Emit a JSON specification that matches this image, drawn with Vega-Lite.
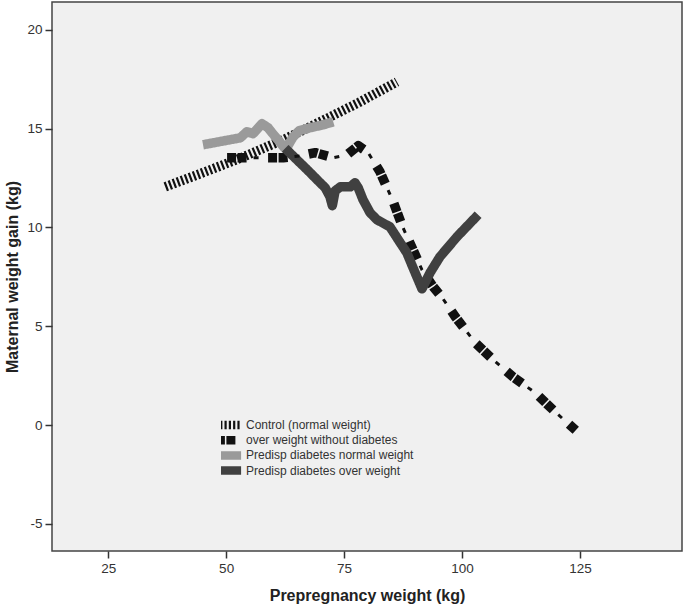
{
  "$schema": "https://vega.github.io/schema/vega-lite/v6.json",
  "width": 630,
  "height": 549,
  "autosize": {"type": "none"},
  "padding": {"left": 52, "top": 2, "right": 3, "bottom": 59},
  "background": "#ffffff",
  "config": {
    "view": {"stroke": "#444444", "strokeWidth": 1.5, "fill": "#f0f0f0"},
    "font": "Liberation Sans",
    "axis": {
      "grid": false,
      "domain": false,
      "tickColor": "#333333",
      "tickSize": 7,
      "tickWidth": 1.5,
      "labelFont": "Liberation Sans",
      "labelFontSize": 13.5,
      "labelColor": "#333333",
      "labelPadding": 3,
      "labelExpr": "'' + datum.value",
      "titleFont": "Liberation Sans",
      "titleFontSize": 16,
      "titleFontWeight": "bold",
      "titleColor": "#222222"
    },
    "legend": {
      "symbolType": "M-4.2,0L4.2,0",
      "symbolSize": 36,
      "symbolStrokeWidth": 8.5,
      "labelFont": "Liberation Sans",
      "labelFontSize": 12,
      "labelColor": "#333333",
      "labelOffset": 10,
      "labelLimit": 0,
      "clipHeight": 14,
      "rowPadding": 1.2,
      "padding": 0
    }
  },
  "data": {
    "values": [
      {"s": "Control (normal weight)", "x": 37.1, "y": 12.05},
      {"s": "Control (normal weight)", "x": 45.0, "y": 12.76},
      {"s": "Control (normal weight)", "x": 53.0, "y": 13.5},
      {"s": "Control (normal weight)", "x": 62.1, "y": 14.43},
      {"s": "Control (normal weight)", "x": 70.0, "y": 15.35},
      {"s": "Control (normal weight)", "x": 78.0, "y": 16.3},
      {"s": "Control (normal weight)", "x": 86.2, "y": 17.36},

      {"s": "over weight without diabetes", "x": 50.2, "y": 13.52},
      {"s": "over weight without diabetes", "x": 56.1, "y": 13.52},
      {"s": "over weight without diabetes", "x": 62.1, "y": 13.52},
      {"s": "over weight without diabetes", "x": 65.7, "y": 13.62},
      {"s": "over weight without diabetes", "x": 68.9, "y": 13.78},
      {"s": "over weight without diabetes", "x": 72.7, "y": 13.52},
      {"s": "over weight without diabetes", "x": 75.6, "y": 13.67},
      {"s": "over weight without diabetes", "x": 78.0, "y": 14.13},
      {"s": "over weight without diabetes", "x": 80.1, "y": 13.78},
      {"s": "over weight without diabetes", "x": 82.6, "y": 12.81},
      {"s": "over weight without diabetes", "x": 85.4, "y": 11.3},
      {"s": "over weight without diabetes", "x": 87.3, "y": 10.08},
      {"s": "over weight without diabetes", "x": 89.6, "y": 8.87},
      {"s": "over weight without diabetes", "x": 91.5, "y": 7.85},
      {"s": "over weight without diabetes", "x": 93.9, "y": 6.99},
      {"s": "over weight without diabetes", "x": 95.8, "y": 6.44},
      {"s": "over weight without diabetes", "x": 98.7, "y": 5.43},
      {"s": "over weight without diabetes", "x": 102.8, "y": 4.16},
      {"s": "over weight without diabetes", "x": 106.6, "y": 3.3},
      {"s": "over weight without diabetes", "x": 110.8, "y": 2.44},
      {"s": "over weight without diabetes", "x": 115.5, "y": 1.63},
      {"s": "over weight without diabetes", "x": 119.7, "y": 0.67},
      {"s": "over weight without diabetes", "x": 124.2, "y": -0.29},

      {"s": "Predisp diabetes normal weight", "x": 45.1, "y": 14.18},
      {"s": "Predisp diabetes normal weight", "x": 53.0, "y": 14.53},
      {"s": "Predisp diabetes normal weight", "x": 54.4, "y": 14.84},
      {"s": "Predisp diabetes normal weight", "x": 55.7, "y": 14.74},
      {"s": "Predisp diabetes normal weight", "x": 57.6, "y": 15.24},
      {"s": "Predisp diabetes normal weight", "x": 58.9, "y": 15.04},
      {"s": "Predisp diabetes normal weight", "x": 59.7, "y": 14.79},
      {"s": "Predisp diabetes normal weight", "x": 61.0, "y": 14.43},
      {"s": "Predisp diabetes normal weight", "x": 62.3, "y": 14.03},
      {"s": "Predisp diabetes normal weight", "x": 63.1, "y": 14.13},
      {"s": "Predisp diabetes normal weight", "x": 64.2, "y": 14.58},
      {"s": "Predisp diabetes normal weight", "x": 65.5, "y": 14.89},
      {"s": "Predisp diabetes normal weight", "x": 67.8, "y": 15.04},
      {"s": "Predisp diabetes normal weight", "x": 70.6, "y": 15.19},
      {"s": "Predisp diabetes normal weight", "x": 72.7, "y": 15.34},

      {"s": "Predisp diabetes over weight", "x": 62.5, "y": 14.0},
      {"s": "Predisp diabetes over weight", "x": 67.2, "y": 12.91},
      {"s": "Predisp diabetes over weight", "x": 69.9, "y": 12.26},
      {"s": "Predisp diabetes over weight", "x": 71.0, "y": 12.0},
      {"s": "Predisp diabetes over weight", "x": 72.0, "y": 11.55},
      {"s": "Predisp diabetes over weight", "x": 72.5, "y": 11.1},
      {"s": "Predisp diabetes over weight", "x": 73.1, "y": 11.85},
      {"s": "Predisp diabetes over weight", "x": 74.2, "y": 12.05},
      {"s": "Predisp diabetes over weight", "x": 76.3, "y": 12.05},
      {"s": "Predisp diabetes over weight", "x": 77.3, "y": 12.26},
      {"s": "Predisp diabetes over weight", "x": 78.0, "y": 12.0},
      {"s": "Predisp diabetes over weight", "x": 79.0, "y": 11.4},
      {"s": "Predisp diabetes over weight", "x": 80.5, "y": 10.74},
      {"s": "Predisp diabetes over weight", "x": 82.0, "y": 10.38},
      {"s": "Predisp diabetes over weight", "x": 84.7, "y": 10.03},
      {"s": "Predisp diabetes over weight", "x": 86.9, "y": 9.22},
      {"s": "Predisp diabetes over weight", "x": 88.3, "y": 8.71},
      {"s": "Predisp diabetes over weight", "x": 89.6, "y": 7.96},
      {"s": "Predisp diabetes over weight", "x": 91.5, "y": 6.89},
      {"s": "Predisp diabetes over weight", "x": 93.2, "y": 7.7},
      {"s": "Predisp diabetes over weight", "x": 95.3, "y": 8.51},
      {"s": "Predisp diabetes over weight", "x": 98.9, "y": 9.52},
      {"s": "Predisp diabetes over weight", "x": 103.4, "y": 10.64}
    ]
  },
  "encoding": {
    "x": {
      "field": "x", "type": "quantitative",
      "scale": {"domain": [13.1, 146.6], "nice": false, "zero": false},
      "axis": {"values": [25, 50, 75, 100, 125], "title": "Prepregnancy weight (kg)", "titlePadding": 13}
    },
    "y": {
      "field": "y", "type": "quantitative",
      "scale": {"domain": [-6.37, 21.4], "nice": false, "zero": false},
      "axis": {"values": [-5, 0, 5, 10, 15, 20], "title": "Maternal weight gain (kg)", "titlePadding": 6}
    }
  },
  "layer": [
    {
      "mark": {"type": "line", "strokeWidth": 9.5, "strokeCap": "butt", "strokeJoin": "round"},
      "encoding": {
        "color": {
          "field": "s", "type": "nominal",
          "scale": {
            "domain": ["Control (normal weight)", "over weight without diabetes", "Predisp diabetes normal weight", "Predisp diabetes over weight"],
            "range": ["#111111", "#111111", "#9a9a9a", "#404040"]
          },
          "legend": {"title": null, "orient": "none", "legendX": 169, "legendY": 416}
        },
        "strokeDash": {
          "field": "s", "type": "nominal",
          "scale": {
            "domain": ["Control (normal weight)", "over weight without diabetes", "Predisp diabetes normal weight", "Predisp diabetes over weight"],
            "range": [[2.2, 2.1], [9, 1.5, 9, 21.5], [1, 0], [1, 0]]
          },
          "legend": {"title": null, "orient": "none", "legendX": 169, "legendY": 416}
        }
      }
    },
    {
      "transform": [{"filter": "datum.s === 'over weight without diabetes'"}],
      "mark": {"type": "line", "strokeWidth": 3, "color": "#111111", "strokeCap": "butt", "strokeDash": [5, 36], "strokeDashOffset": 14.5}
    }
  ]
}
